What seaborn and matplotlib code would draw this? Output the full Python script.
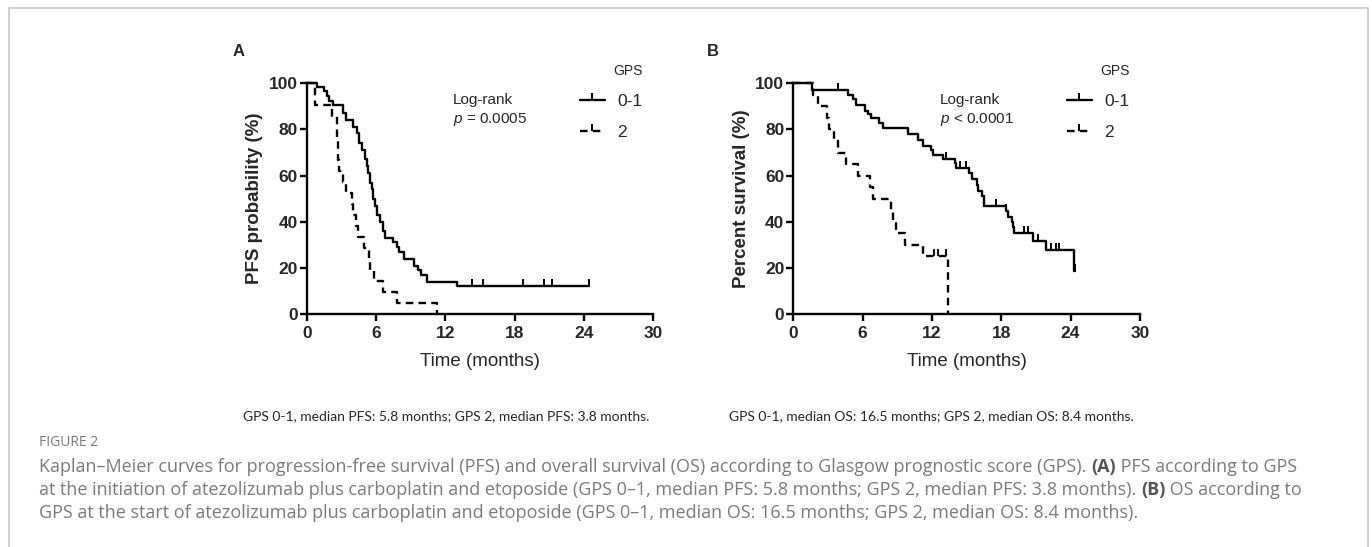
import numpy as np
import pandas as pd
import seaborn as sns
import matplotlib.pyplot as plt
from matplotlib.lines import Line2D
from matplotlib.patches import Rectangle

sns.set_theme(style="ticks")
plt.rcParams['font.family'] = ['Liberation Sans', 'DejaVu Sans']
plt.rcParams['mathtext.fontset'] = 'custom'
plt.rcParams['mathtext.it'] = 'Liberation Sans:italic'
plt.rcParams['mathtext.rm'] = 'Liberation Sans'

# ---- data (months, %) ----
# A: PFS, GPS 0-1
pfs01_time = [0, 0.87, 1.5, 1.75, 1.95, 2.3, 3.17, 3.37, 4.05, 4.33, 4.56, 4.82, 5.05,
              5.19, 5.34, 5.48, 5.65, 5.77, 5.88, 6.06, 6.37, 6.58, 6.78, 7.44, 7.79,
              8.02, 8.42, 9.32, 9.66, 9.86, 10.38, 12.98, 24.46]
pfs01_surv = [100, 98.5, 96.5, 94.5, 92.5, 90.5, 87, 84, 81, 78.5, 74, 71, 67,
              64, 61, 57, 54, 50, 47, 43, 40, 36, 33, 31, 29,
              27, 24, 21, 19, 17, 14, 12, 12]
pfs01_cens = [14.28, 15.23, 18.69, 20.57, 21.2, 24.46]
# A: PFS, GPS 2
pfs2_time = [0, 0.7, 2.16, 2.6, 2.65, 2.7, 2.75, 2.8, 3.1, 3.4, 3.9, 4.05, 4.25,
             4.45, 4.95, 5.38, 5.45, 5.85, 6.6, 7.85, 11.3]
pfs2_surv = [100, 90.5, 85.7, 81, 76.2, 71.4, 66.7, 61.9, 57.1, 52.4, 47.6, 42.9, 38.1,
             33.3, 28.6, 23.8, 19, 14.3, 9.5, 4.8, 0]
pfs2_cens = []

# B: OS, GPS 0-1
os01_time = [0, 1.6, 4.7, 5.2, 5.45, 6.2, 6.5, 6.7, 7.4, 7.8, 9.95, 10.8, 11.2, 11.9,
             12.1, 13.0, 14.0, 14.1, 15.25, 15.5, 15.9, 16.0, 16.3, 16.5, 18.4, 18.6,
             18.9, 19.0, 19.15, 20.75, 21.9, 24.33, 24.4]
os01_surv = [100, 97, 95, 93, 90.5, 88, 86.5, 85, 83, 80.5, 78, 75.5, 73, 71,
             69, 67, 65.5, 63.5, 61, 58.5, 56, 53.5, 51, 47, 44.5, 42,
             40, 37.5, 35, 31.8, 27.8, 18.8, 18.8]
os01_cens = [3.9, 13.25, 14.4, 14.97, 17.56, 18.43, 20.0, 20.3, 21.16, 22.3, 22.75, 23.03, 24.4]
# B: OS, GPS 2
os2_time = [0, 1.7, 2.1, 2.95, 3.1, 3.5, 3.9, 4.6, 5.6, 6.6, 6.9, 8.5, 8.65, 8.9,
            9.7, 11.2, 13.4]
os2_surv = [100, 95, 90, 85, 80, 75, 70, 65, 60, 55, 50, 45, 40, 35,
            30, 25, 0]
os2_cens = [12.2, 12.5, 13.2]

groups = ['0-1', '2']
W, H = 1372, 547


def px(x, y):
    return x / W, 1 - y / H


def km_frame(t, s, group):
    return pd.DataFrame({'time': t, 'surv': s, 'group': group})


def cens_frame(t, s, c):
    idx = np.searchsorted(t, c, side='right') - 1
    return pd.DataFrame({'time': c, 'surv': np.asarray(s)[idx]})


DASH = (0, (3.2, 2.2))

fig = plt.figure(figsize=(W / 100, H / 100), dpi=100)
fig.patch.set_facecolor('white')


def panel(left, series, ylabel, label, letter_x, logrank, p_text, leg_x):
    l, b = px(left, 314)
    r, t = px(left + 346.5, 83.3)
    ax = fig.add_axes([l, b, r - l, t - b])
    for (tt, ss, cc), grp, ls in zip(series, groups, ['-', DASH]):
        sns.lineplot(data=km_frame(tt, ss, grp), x='time', y='surv', color='black',
                     lw=1.7, linestyle=ls, drawstyle='steps-post', ax=ax,
                     clip_on=False, legend=False, sort=False)
        if len(cc):
            cf = cens_frame(tt, ss, cc)
            sns.scatterplot(data=cf, x='time', y='surv', marker=2, s=25, color='black',
                            linewidth=1.4, ax=ax, clip_on=False, legend=False)
    ax.set_xlim(0, 30)
    ax.set_ylim(0, 100)
    ax.set_xticks([0, 6, 12, 18, 24, 30])
    ax.set_yticks([0, 20, 40, 60, 80, 100])
    for sp in ['top', 'right']:
        ax.spines[sp].set_visible(False)
    for sp in ['left', 'bottom']:
        ax.spines[sp].set_linewidth(1.7)
        ax.spines[sp].set_color('black')
    ax.tick_params(length=5, width=1.7, color='black', labelsize=12.5, pad=1.5)
    ax.tick_params(axis='x', pad=3.5)
    for lab in ax.get_xticklabels() + ax.get_yticklabels():
        lab.set_fontweight('bold')
    ax.set_xlabel('Time (months)', fontsize=13.5, labelpad=9)
    ax.set_ylabel(ylabel, fontsize=13.5, fontweight='bold', labelpad=4)
    ax.set_facecolor('white')
    ax.grid(False)

    fig.text(*px(letter_x, 52), label, fontsize=12, fontweight='bold', va='center')
    fig.text(*px(logrank, 100), 'Log-rank', fontsize=11, va='center')
    fig.text(*px(logrank, 119), p_text, fontsize=11, va='center')

    handles = [Line2D([], [], color='black', lw=1.7, marker=2, markersize=5, mew=1.4),
               Line2D([], [], color='black', lw=1.7, linestyle=DASH, marker=2,
                      markersize=5, mew=1.4)]
    ax.legend(handles, groups, title='GPS', frameon=False, loc='upper left',
              bbox_to_anchor=px(leg_x, 55), bbox_transform=fig.transFigure,
              fontsize=12.5, title_fontsize=10, handlelength=1.45,
              handletextpad=0.7, labelspacing=0.92, borderpad=0,
              alignment='right')
    return ax


panel(306.7, [(pfs01_time, pfs01_surv, pfs01_cens), (pfs2_time, pfs2_surv, pfs2_cens)],
      'PFS probability (%)', 'A', 233, 453, '$p$ = 0.0005', 571)
panel(793.3, [(os01_time, os01_surv, os01_cens), (os2_time, os2_surv, os2_cens)],
      'Percent survival (%)', 'B', 707, 940, '$p$ < 0.0001', 1058)

sub_font = ['Lato', 'DejaVu Sans']
fig.text(*px(446, 416), 'GPS 0-1, median PFS: 5.8 months; GPS 2, median PFS: 3.8 months.',
         fontsize=10, family=sub_font, ha='center', va='center')
fig.text(*px(931, 416), 'GPS 0-1, median OS: 16.5 months; GPS 2, median OS: 8.4 months.',
         fontsize=10, family=sub_font, ha='center', va='center')

# caption
cap_font = ['Open Sans', 'DejaVu Sans']
grey = '#7a7a7a'
fig.text(*px(39, 443), 'FIGURE 2', fontsize=10, family=cap_font, color=grey, va='center')

renderer = fig.canvas.get_renderer()


def rich_line(y, parts):
    x = 39
    for s, bold in parts:
        t = fig.text(*px(x, y), s, fontsize=13, family=cap_font, va='center',
                     color='#555555' if bold else grey,
                     fontweight='bold' if bold else 'normal')
        bb = t.get_window_extent(renderer=renderer)
        x = bb.x1


rich_line(467, [('Kaplan\u2013Meier curves for progression-free survival (PFS) and overall survival (OS) '
                 'according to Glasgow prognostic score (GPS). ', False), ('(A)', True),
                (' PFS according to GPS', False)])
rich_line(490, [('at the initiation of atezolizumab plus carboplatin and etoposide (GPS 0\u20131, median PFS: '
                 '5.8 months; GPS 2, median PFS: 3.8 months). ', False), ('(B)', True),
                (' OS according to', False)])
rich_line(513, [('GPS at the start of atezolizumab plus carboplatin and etoposide (GPS 0\u20131, median OS: '
                 '16.5 months; GPS 2, median OS: 8.4 months).', False)])

fig.add_artist(Rectangle(px(8.7, 600), (1368 - 8.7) / W, 592 / H, fill=False,
                         edgecolor='#c8c8c8', lw=1.2, transform=fig.transFigure,
                         clip_on=False))

fig.savefig('out.png', dpi=100, facecolor='white')
